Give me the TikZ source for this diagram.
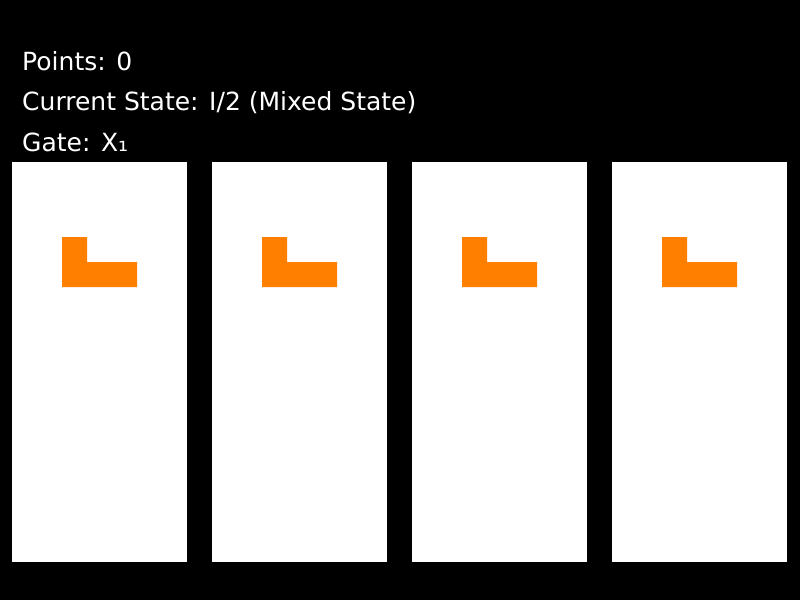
\documentclass[tikz,border=0pt]{standalone}
\usepackage{fontspec}
\setmainfont{DejaVu Sans}
\definecolor{tileorange}{HTML}{FF7F00}
\begin{document}
\begin{tikzpicture}[x=1pt,y=-1pt]

      \fill[black] (0,0) rectangle (800,600);
      \useasboundingbox (0,0) rectangle (800,600);

      \begin{scope}[every node/.style={anchor=base west, text=white, inner sep=0pt, font=\fontsize{25}{30}\selectfont}]
        \node (points) at (22,70)  {Points: 0};
        \node (state)  at (22,110) {Current State: I/2 (Mixed State)};
        \node (gate)   at (22,151) {Gate: X₁};
      \end{scope}

      \begin{scope}[every node/.style={fill=white, inner sep=0pt, anchor=north west, minimum width=175pt, minimum height=400pt}]
        \foreach \i in {0,...,3}
          \node (panel\i) at (12+200*\i,162) {};
      \end{scope}

      \foreach \i in {0,...,3}
        \fill[tileorange] (62+200*\i,237) -- ++(25,0) -- ++(0,25) -- ++(50,0)
          -- ++(0,25) -- ++(-75,0) -- cycle;

    \end{tikzpicture}
\end{document}
